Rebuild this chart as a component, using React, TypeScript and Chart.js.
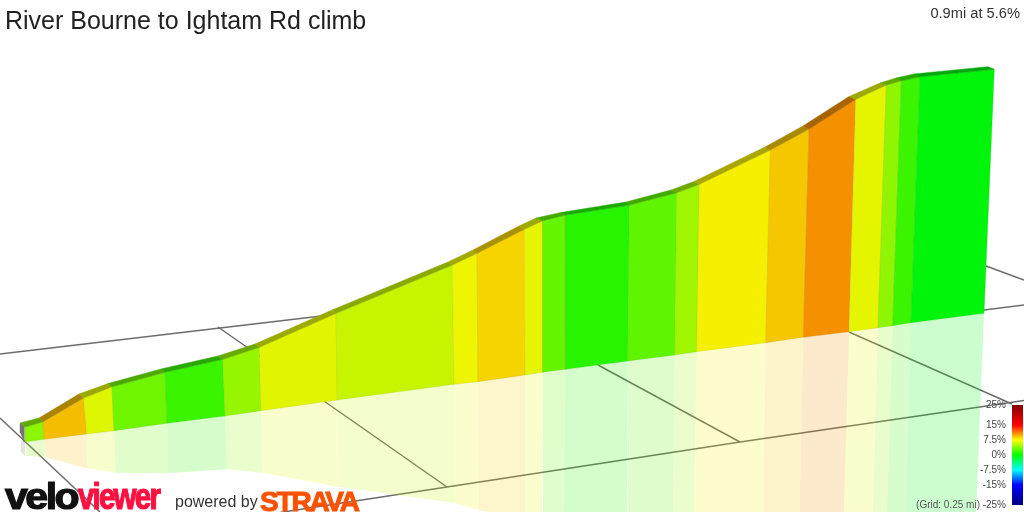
import React, { useEffect, useRef } from "react";
import { Chart, registerables } from "chart.js";

Chart.register(...registerables);

const titleText = "River Bourne to Ightam Rd climb";
const summaryText = "0.9mi at 5.6%";
const gridNote = "(Grid: 0.25 mi)";
const legendLabels = ["25%", "15%", "7.5%", "0%", "-7.5%", "-15%", "-25%"];
const legendLabelY = [405, 425, 440, 455, 470, 485, 505];

// Gradient of each stretch of the climb, in percent
const gradePct = [4.3, 9.2, 6.8, 3.4, 1.8, 4.6, 6.9, 6.1, 7.3, 8.5, 7.0, 3.1, 1.2, 2.9, 4.9, 7.65, 8.9, 10.6, 7.0, 4.4, 1.8, 0];

// Projected outline of the profile at each stretch boundary
const topX = [25, 43, 83.5, 112, 165, 222.7, 259.3, 336, 452.3, 477, 524.3, 542.7, 565.7, 629.3, 676.7, 699.3, 770.3, 809, 855.7, 886.3, 901.3, 920, 994.3];
const topY = [427, 421.7, 398, 386.7, 372.3, 359.3, 347.3, 313.3, 265, 253.3, 229.3, 220.7, 215, 205, 192.7, 184.3, 150, 129, 99.3, 85, 80.7, 76.7, 69.3];
const ridgeX = [20, 39, 79, 108, 161, 218, 255, 332, 448, 473, 519, 536, 561, 626, 671, 694, 765, 803, 849, 880, 896, 914, 988];
const ridgeY = [423, 418, 394, 383.5, 369, 356, 344, 310, 262, 250, 226, 218, 212.5, 202, 190, 181.5, 147, 126, 96.5, 83, 78, 74, 66.7];
const baseX = [25.7, 44, 86.7, 114, 167, 225, 261, 337.3, 454, 478, 525, 542.7, 565.3, 627.7, 674.7, 696.7, 765.7, 803.3, 849, 878, 892.7, 911, 984];
const baseY = [441.7, 439.3, 434, 430.7, 423.3, 416, 410.7, 400, 384.3, 381.7, 375, 372.3, 369.3, 361, 355, 351.7, 342.7, 337.3, 331.7, 327.7, 325.7, 322.7, 313.3];
const mirrorX = [26, 45, 87, 116, 168, 227, 262, 339, 455, 479, 525, 542, 564, 627, 673, 694, 763, 799, 843, 872, 886, 905, 975];
const mirrorY = [456, 457.3, 468.3, 472.7, 473.3, 469.3, 472.7, 487, 503, 510, 521, 524, 523, 517, 517, 519, 536, 540, 545, 545, 545, 545, 540];

// End face of the profile
const endFaceX = [20, 24, 24, 20.7];
const endFaceY = [423, 426, 441.7, 433];
const endMirrorX = [20.7, 25, 25, 20.7];
const endMirrorY = [440, 441.7, 456, 451.7];

// Ground grid lines
const gridLineXs = [
  [0, 330],
  [984, 1024],
  [0, 100],
  [218, 447],
  [598, 740],
  [849, 1012],
  [986, 1024],
  [280, 447, 740, 1007, 1024],
];
const gridLineYs = [
  [354, 315],
  [310, 305],
  [418, 512],
  [327, 487],
  [365, 442],
  [332, 404],
  [266, 280],
  [512.5, 487, 442, 403, 400.5],
];

function gradeRgb(g: number): [number, number, number] {
  if (g <= 7.5) return [Math.round((245 * g) / 7.5), 245, g === 0 ? 10 : 0];
  return [245, Math.round(245 - (245 * (g - 7.5)) / 7.5), 0];
}

function poly(xs: number[], ys: number[]) {
  const pts = xs.map((x, i) => ({ x, y: ys[i] }));
  pts.push({ ...pts[0] });
  return pts;
}

function shape(xs: number[], ys: number[], fill: string, edge: string, edgeWidth: number) {
  return {
    type: "line" as const,
    data: poly(xs, ys),
    fill: "shape",
    backgroundColor: fill,
    borderColor: edge,
    borderWidth: edgeWidth,
    pointRadius: 0,
    tension: 0,
  };
}

function buildDatasets() {
  const painted: any[] = [];
  gridLineXs.forEach((xs, i) => {
    painted.push({
      type: "line",
      data: xs.map((x, j) => ({ x, y: gridLineYs[i][j] })),
      fill: false,
      borderColor: "#6c6c6c",
      borderWidth: 1.5,
      pointRadius: 0,
      tension: 0,
    });
  });
  painted.push(shape(endMirrorX, endMirrorY, "rgba(120,120,120,0.2)", "rgba(0,0,0,0)", 0));
  gradePct.forEach((g, i) => {
    const [r, gr, b] = gradeRgb(g);
    painted.push(
      shape(
        [baseX[i], baseX[i + 1], mirrorX[i + 1], mirrorX[i]],
        [baseY[i], baseY[i + 1], mirrorY[i + 1], mirrorY[i]],
        `rgba(${r},${gr},${b},0.2)`,
        "rgba(0,0,0,0)",
        0
      )
    );
  });
  painted.push(shape(endFaceX, endFaceY, "#747474", "#747474", 0.5));
  gradePct.forEach((g, i) => {
    const [r, gr, b] = gradeRgb(g);
    painted.push(
      shape(
        [topX[i], topX[i + 1], baseX[i + 1], baseX[i]],
        [topY[i], topY[i + 1], baseY[i + 1], baseY[i]],
        `rgb(${r},${gr},${b})`,
        `rgba(${Math.round(r * 0.8)},${Math.round(gr * 0.8)},${b},0.35)`,
        0.8
      )
    );
  });
  gradePct.forEach((g, i) => {
    const [r, gr, b] = gradeRgb(g);
    const dark = `rgb(${Math.round(r * 0.69)},${Math.round(gr * 0.69)},${b})`;
    painted.push(
      shape(
        [ridgeX[i], ridgeX[i + 1], topX[i + 1], topX[i]],
        [ridgeY[i], ridgeY[i + 1], topY[i + 1], topY[i]],
        dark,
        dark,
        0.5
      )
    );
  });
  return painted.reverse();
}

const abs = (s: React.CSSProperties): React.CSSProperties => ({ position: "absolute", whiteSpace: "nowrap", ...s });
const sans = '"Liberation Sans", Arial, sans-serif';

export default function App() {
  const ref = useRef<HTMLCanvasElement | null>(null);
  useEffect(() => {
    if (!ref.current) return;
    const chart = new Chart(ref.current, {
      type: "line",
      data: { datasets: buildDatasets() },
      options: {
        responsive: false,
        animation: false,
        layout: { padding: 0 },
        scales: {
          x: { type: "linear", min: 0, max: 1024, display: false },
          y: { type: "linear", min: 0, max: 512, reverse: true, display: false },
        },
        plugins: { legend: { display: false }, title: { display: false }, tooltip: { enabled: false } },
      } as any,
    });
    return () => chart.destroy();
  }, []);

  return (
    <div style={{ position: "fixed", left: 0, top: 0, width: 1024, height: 512, overflow: "hidden", background: "#fff", fontFamily: sans }}>
      <canvas ref={ref} width={1024} height={512} style={{ position: "absolute", left: 0, top: 0, width: 1024, height: 512 }} />
      <div style={abs({ left: 5, top: 5, fontSize: 25, lineHeight: "30px", color: "#222" })}>{titleText}</div>
      <div style={abs({ right: 4, top: 4, fontSize: 14.67, lineHeight: "18px", color: "#333" })}>{summaryText}</div>
      {legendLabels.map((t, i) => (
        <div key={t} style={abs({ right: 18, top: legendLabelY[i] - 7, fontSize: 10, lineHeight: "14px", color: "#444" })}>{t}</div>
      ))}
      <div style={abs({ right: 44, top: 498, fontSize: 10, lineHeight: "14px", color: "#555" })}>{gridNote}</div>
      <div
        style={{
          position: "absolute",
          left: 1012,
          top: 405,
          width: 11,
          height: 100,
          background:
            "linear-gradient(to bottom,#800000 0%,#ff0000 20%,#ffff00 35%,#00ff00 50%,#00ffff 65%,#0000ff 80%,#000080 100%)",
        }}
      />
      <div style={abs({ left: 5, top: 479, fontSize: 36, lineHeight: "36px", fontWeight: 700, letterSpacing: -2.2, color: "#111", WebkitTextStroke: "1.2px #111", transform: "scaleX(1.14)", transformOrigin: "left center" })}>velo</div>
      <div style={abs({ left: 78, top: 479, fontSize: 36, lineHeight: "36px", fontWeight: 700, letterSpacing: -2.2, color: "#ff1040", WebkitTextStroke: "1.2px #ff1040", transform: "scaleX(0.82)", transformOrigin: "left center" })}>viewer</div>
      <div style={abs({ left: 175, top: 492, fontSize: 16, lineHeight: "20px", color: "#333" })}>powered by</div>
      <div style={abs({ left: 260, top: 487, fontSize: 28, lineHeight: "30px", fontWeight: 700, letterSpacing: -2.2, color: "#fc5200", WebkitTextStroke: "1px #fc5200" })}>STRAVA</div>
    </div>
  );
}
